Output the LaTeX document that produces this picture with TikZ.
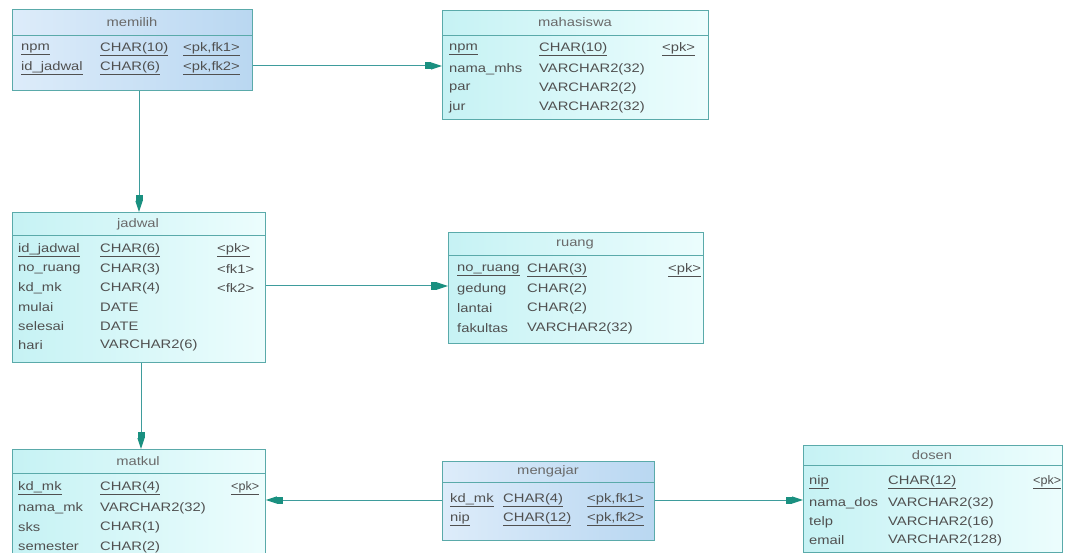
\documentclass[tikz,border=0pt]{standalone}
\usepackage{fontspec}
\setmainfont{Liberation Sans}[FakeStretch=1.2]
\usetikzlibrary{arrows.meta,calc}
\definecolor{bordercol}{HTML}{5AAAAA}
\definecolor{cyanL}{HTML}{C6F2F4}
\definecolor{cyanR}{HTML}{ECFDFD}
\definecolor{blueL}{HTML}{DDECFA}
\definecolor{blueR}{HTML}{B9D7F1}
\definecolor{txtcol}{HTML}{505050}
\definecolor{linecol}{HTML}{3E9C9C}
\definecolor{tipcol}{HTML}{1A9080}
\tikzset{
  x=1pt,y=-1pt,
  tbl/.style={draw=bordercol,line width=0.9pt,rectangle,inner sep=0pt,anchor=north west},
  tblC/.style={tbl,left color=cyanL,right color=cyanR},
  tblB/.style={tbl,left color=blueL,right color=blueR},
  sepline/.style={draw=bordercol,line width=0.7pt},
  hd/.style={font=\fontsize{12.3}{14}\selectfont,text=txtcol!85,inner sep=0pt,anchor=center},
  cell/.style={font=\fontsize{12.3}{14}\selectfont,text=txtcol,inner sep=0pt,anchor=west},
  rel/.style={draw=linecol,line width=1pt,
    -{Rectangle[length=6pt,width=7pt,sep=0pt,color=tipcol,fill=tipcol]Triangle[length=11pt,width=7pt,color=tipcol,fill=tipcol]}},
}
\begin{document}
\begin{tikzpicture}
\clip (0,0) rectangle (1065,553);
\fill[white] (0,0) rectangle (1065,553);

% memilih
\node[tblB,minimum width=240pt,minimum height=81pt] (memilih) at (12,9) {};
\draw[sepline] ([yshift=-26pt]memilih.north west) -- ([yshift=-26pt]memilih.north east);
\node[hd] (mihd) at (132,22) {memilih};
\node[cell] (mi1a) at (21,49) {\underline{npm}};
\node[cell] (mi1b) at (100,49) {\underline{CHAR(10)}};
\node[cell] (mi1c) at (183,49) {\underline{<pk,fk1>}};
\node[cell] (mi2a) at (21,68) {\underline{id\_jadwal}};
\node[cell] (mi2b) at (100,68) {\underline{CHAR(6)}};
\node[cell] (mi2c) at (183,68) {\underline{<pk,fk2>}};

% mahasiswa
\node[tblC,minimum width=266pt,minimum height=109pt] (mahasiswa) at (442,10) {};
\draw[sepline] ([yshift=-25pt]mahasiswa.north west) -- ([yshift=-25pt]mahasiswa.north east);
\node[hd] (mhhd) at (575,22) {mahasiswa};
\node[cell] (mh1a) at (449,49) {\underline{npm}};
\node[cell] (mh1b) at (539,49) {\underline{CHAR(10)}};
\node[cell] (mh1c) at (662,49) {\underline{<pk>}};
\node[cell] (mh2a) at (449,69) {nama\_mhs};
\node[cell] (mh2b) at (539,69) {VARCHAR2(32)};
\node[cell] (mh3a) at (449,88) {par};
\node[cell] (mh3b) at (539,88) {VARCHAR2(2)};
\node[cell] (mh4a) at (449,107) {jur};
\node[cell] (mh4b) at (539,107) {VARCHAR2(32)};

% jadwal
\node[tblC,minimum width=253pt,minimum height=150pt] (jadwal) at (12,212) {};
\draw[sepline] ([yshift=-23pt]jadwal.north west) -- ([yshift=-23pt]jadwal.north east);
\node[hd] (jdhd) at (138,224) {jadwal};
\node[cell] (jd1a) at (18,250) {\underline{id\_jadwal}};
\node[cell] (jd1b) at (100,250) {\underline{CHAR(6)}};
\node[cell] (jd1c) at (217,250) {\underline{<pk>}};
\node[cell] (jd2a) at (18,269) {no\_ruang};
\node[cell] (jd2b) at (100,269) {CHAR(3)};
\node[cell] (jd2c) at (217,269) {<fk1>};
\node[cell] (jd3a) at (18,288) {kd\_mk};
\node[cell] (jd3b) at (100,288) {CHAR(4)};
\node[cell] (jd3c) at (217,288) {<fk2>};
\node[cell] (jd4a) at (18,307) {mulai};
\node[cell] (jd4b) at (100,307) {DATE};
\node[cell] (jd5a) at (18,326) {selesai};
\node[cell] (jd5b) at (100,326) {DATE};
\node[cell] (jd6a) at (18,345) {hari};
\node[cell] (jd6b) at (100,345) {VARCHAR2(6)};

% ruang
\node[tblC,minimum width=255pt,minimum height=111pt] (ruang) at (448,232) {};
\draw[sepline] ([yshift=-23pt]ruang.north west) -- ([yshift=-23pt]ruang.north east);
\node[hd] (ruhd) at (575,244) {ruang};
\node[cell] (ru1a) at (457,270) {\underline{no\_ruang}};
\node[cell] (ru1b) at (527,270) {\underline{CHAR(3)}};
\node[cell] (ru1c) at (668,270) {\underline{<pk>}};
\node[cell] (ru2a) at (457,289) {gedung};
\node[cell] (ru2b) at (527,289) {CHAR(2)};
\node[cell] (ru3a) at (457,308) {lantai};
\node[cell] (ru3b) at (527,308) {CHAR(2)};
\node[cell] (ru4a) at (457,328) {fakultas};
\node[cell] (ru4b) at (527,328) {VARCHAR2(32)};

% matkul
\node[tblC,minimum width=253pt,minimum height=110pt] (matkul) at (12,449) {};
\draw[sepline] ([yshift=-24pt]matkul.north west) -- ([yshift=-24pt]matkul.north east);
\node[hd] (mkhd) at (138,461) {matkul};
\node[cell] (mk1a) at (18,488) {\underline{kd\_mk}};
\node[cell] (mk1b) at (100,488) {\underline{CHAR(4)}};
\node[cell] (mk1c) at (231,488) {\scalebox{0.85}[1]{\underline{<pk>}}};
\node[cell] (mk2a) at (18,508) {nama\_mk};
\node[cell] (mk2b) at (100,508) {VARCHAR2(32)};
\node[cell] (mk3a) at (18,527) {sks};
\node[cell] (mk3b) at (100,527) {CHAR(1)};
\node[cell] (mk4a) at (18,547) {semester};
\node[cell] (mk4b) at (100,547) {CHAR(2)};

% mengajar
\node[tblB,minimum width=212pt,minimum height=79pt] (mengajar) at (442,461) {};
\draw[sepline] ([yshift=-21pt]mengajar.north west) -- ([yshift=-21pt]mengajar.north east);
\node[hd] (mghd) at (548,471) {mengajar};
\node[cell] (mg1a) at (450,500) {\underline{kd\_mk}};
\node[cell] (mg1b) at (503,500) {\underline{CHAR(4)}};
\node[cell] (mg1c) at (587,500) {\underline{<pk,fk1>}};
\node[cell] (mg2a) at (450,519) {\underline{nip}};
\node[cell] (mg2b) at (503,519) {\underline{CHAR(12)}};
\node[cell] (mg2c) at (587,519) {\underline{<pk,fk2>}};

% dosen
\node[tblC,minimum width=259pt,minimum height=107pt] (dosen) at (803,445) {};
\draw[sepline] ([yshift=-20pt]dosen.north west) -- ([yshift=-20pt]dosen.north east);
\node[hd] (dshd) at (932,455) {dosen};
\node[cell] (ds1a) at (809,482) {\underline{nip}};
\node[cell] (ds1b) at (888,482) {\underline{CHAR(12)}};
\node[cell] (ds1c) at (1033,482) {\scalebox{0.85}[1]{\underline{<pk>}}};
\node[cell] (ds2a) at (809,503) {nama\_dos};
\node[cell] (ds2b) at (888,503) {VARCHAR2(32)};
\node[cell] (ds3a) at (809,522) {telp};
\node[cell] (ds3b) at (888,522) {VARCHAR2(16)};
\node[cell] (ds4a) at (809,540) {email};
\node[cell] (ds4b) at (888,540) {VARCHAR2(128)};

% relations
\coordinate (r1) at (0,66);
\draw[rel] (memilih.east |- r1) -- (mahasiswa.west |- r1);
\draw[rel] ([xshift=127pt]memilih.south west) -- ([xshift=127pt]jadwal.north west);
\coordinate (r2) at (0,286);
\draw[rel] (jadwal.east |- r2) -- (ruang.west |- r2);
\draw[rel] ([xshift=129pt]jadwal.south west) -- ([xshift=129pt]matkul.north west);
\coordinate (r3) at (0,500);
\draw[rel] (mengajar.west |- r3) -- (matkul.east |- r3);
\draw[rel] (mengajar.east |- r3) -- (dosen.west |- r3);
\end{tikzpicture}
\end{document}
